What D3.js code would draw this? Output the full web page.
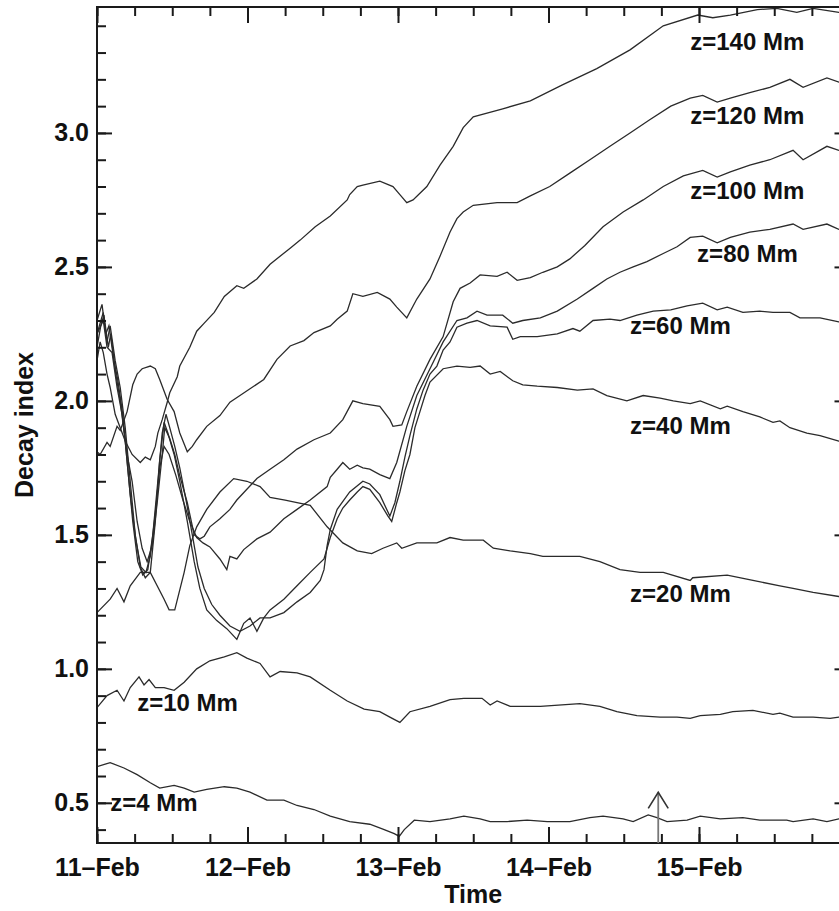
<!DOCTYPE html>
<html>
<head>
<meta charset="utf-8">
<script src="https://cdn.jsdelivr.net/npm/d3@7"></script>
<style>
body { margin: 0; background: #fff; }
text { font-family: "Liberation Sans", Arial, Helvetica, sans-serif; font-weight: bold; fill: #111; }
.tick text { font-size: 25px; }
.lbl { font-size: 24px; }
.title { font-size: 25px; }
</style>
</head>
<body>
<div id="chart"></div>
<script>
// decay index vs time, hours since 11-Feb-2011 00:00 UT
var z4 = [[0,0.635],[2.1,0.65],[4.3,0.63],[6.4,0.605],[8.5,0.575],[10.0,0.555],[12.3,0.565],[13.9,0.555],[15.5,0.54],[17.5,0.55],[20.3,0.56],[22.3,0.555],[24.4,0.54],[27.1,0.51],[29.8,0.51],[31.9,0.49],[34.6,0.475],[37.2,0.45],[40.3,0.43],[43.5,0.42],[45.8,0.40],[47.4,0.385],[48.2,0.375],[49.0,0.40],[50.6,0.435],[53.1,0.43],[56.3,0.44],[58.5,0.45],[61.1,0.44],[62.7,0.43],[65.4,0.43],[68.6,0.435],[71.8,0.43],[75.4,0.43],[78.6,0.445],[80.7,0.45],[83.9,0.44],[85.5,0.43],[87.9,0.455],[89.3,0.445],[90.9,0.43],[94.1,0.435],[96.2,0.45],[99.4,0.44],[103.0,0.445],[105.7,0.435],[110.0,0.435],[111.0,0.43],[114.2,0.44],[116.4,0.43],[118.3,0.44],[120,0.44]];

var z10 = [[0,0.855],[1.6,0.90],[3.2,0.92],[4.3,0.88],[5.3,0.93],[6.7,0.97],[7.5,0.94],[8.3,0.96],[9.3,0.93],[10.7,0.93],[12.3,0.92],[13.9,0.95],[15.9,1.00],[18.0,1.03],[20.3,1.045],[22.3,1.06],[23.9,1.04],[26.0,1.02],[27.6,0.97],[29.2,0.99],[31.9,0.985],[34.0,0.97],[37.2,0.92],[39.9,0.88],[42.6,0.85],[45.1,0.84],[46.7,0.82],[48.3,0.80],[49.9,0.84],[53.1,0.86],[56.3,0.885],[58.5,0.89],[61.4,0.89],[62.7,0.865],[63.8,0.88],[65.9,0.86],[70.7,0.86],[77.0,0.87],[80.2,0.86],[82.9,0.84],[86.1,0.825],[89.8,0.82],[92.5,0.82],[94.6,0.815],[96.2,0.825],[99.4,0.83],[101.4,0.84],[104.6,0.845],[107.8,0.83],[108.9,0.835],[111.0,0.82],[114.2,0.82],[116.9,0.815],[118.3,0.82],[120,0.82]];

var z20 = [[0,1.21],[2.1,1.26],[3.2,1.30],[4.3,1.25],[5.3,1.31],[6.9,1.36],[8.5,1.36],[10.7,1.26],[11.5,1.22],[12.4,1.22],[13.9,1.36],[14.8,1.46],[15.9,1.53],[17.5,1.595],[19.6,1.66],[21.8,1.71],[23.9,1.70],[26.0,1.68],[27.6,1.64],[30.0,1.63],[31.9,1.62],[34.0,1.61],[36.7,1.53],[39.2,1.47],[41.5,1.44],[43.8,1.43],[45.6,1.45],[47.8,1.47],[48.6,1.45],[51.0,1.47],[54.2,1.47],[56.3,1.49],[58.4,1.48],[61.6,1.48],[63.2,1.45],[65.9,1.44],[69.1,1.43],[71.1,1.42],[77.0,1.42],[80.2,1.40],[83.4,1.37],[86.6,1.36],[90.3,1.36],[94.6,1.33],[95.0,1.34],[100.5,1.35],[104.6,1.33],[108.9,1.31],[111.0,1.30],[114.2,1.285],[118.3,1.27],[120,1.265]];

var z40 = [[0,2.25],[1.0,2.33],[1.6,2.22],[2.1,2.28],[2.9,2.15],[3.7,2.05],[4.5,1.90],[5.3,1.70],[6.1,1.50],[6.9,1.38],[7.7,1.34],[8.5,1.36],[9.3,1.55],[10.0,1.78],[10.7,1.92],[11.3,1.88],[12.3,1.80],[13.2,1.70],[14.4,1.55],[15.5,1.40],[16.4,1.30],[17.5,1.22],[19.1,1.18],[20.7,1.15],[22.3,1.11],[23.4,1.17],[24.4,1.19],[25.5,1.14],[26.6,1.19],[27.6,1.22],[29.8,1.26],[31.9,1.31],[34.0,1.36],[36.2,1.41],[37.2,1.49],[38.3,1.56],[39.2,1.60],[40.3,1.63],[41.5,1.66],[42.4,1.68],[43.5,1.67],[45.1,1.62],[46.4,1.57],[47.0,1.55],[47.8,1.62],[48.3,1.66],[49.1,1.74],[49.9,1.80],[50.7,1.90],[51.5,1.96],[52.3,2.02],[53.1,2.07],[55.2,2.12],[57.4,2.13],[59.5,2.125],[61.1,2.13],[62.7,2.10],[64.3,2.11],[66.3,2.075],[67.9,2.06],[70.2,2.055],[73.4,2.05],[76.6,2.04],[79.1,2.045],[81.3,2.02],[84.5,2.00],[87.1,2.02],[89.8,2.01],[91.9,2.00],[94.6,1.99],[96.2,2.00],[99.4,1.97],[100.5,1.98],[103.0,1.96],[105.7,1.94],[107.8,1.92],[108.9,1.925],[110.5,1.90],[113.2,1.88],[115.3,1.87],[118.3,1.85],[120,1.845]];

var z60 = [[0,2.30],[0.8,2.36],[1.4,2.25],[1.9,2.28],[2.7,2.15],[3.3,2.08],[4.1,1.95],[4.9,1.75],[5.7,1.55],[6.5,1.40],[7.3,1.35],[8.1,1.37],[8.9,1.50],[9.7,1.70],[10.4,1.88],[11.0,1.95],[11.6,1.90],[12.4,1.83],[13.2,1.75],[14.2,1.63],[15.2,1.50],[16.1,1.38],[17.1,1.30],[18.3,1.24],[19.6,1.20],[21.2,1.16],[22.8,1.14],[24.4,1.16],[26.0,1.19],[27.6,1.19],[29.8,1.21],[31.9,1.25],[34.0,1.285],[35.6,1.33],[36.2,1.37],[36.7,1.46],[37.2,1.52],[38.3,1.595],[40.3,1.66],[42.4,1.70],[43.5,1.69],[45.1,1.65],[46.7,1.57],[47.5,1.62],[48.3,1.70],[49.1,1.79],[49.9,1.87],[51.0,1.97],[52.0,2.04],[53.1,2.10],[54.2,2.13],[55.2,2.19],[56.3,2.22],[57.4,2.275],[59.0,2.29],[60.6,2.30],[62.7,2.28],[65.4,2.275],[66.3,2.23],[67.5,2.24],[70.2,2.24],[73.4,2.25],[75.9,2.27],[77.0,2.26],[79.1,2.30],[81.8,2.305],[83.4,2.30],[86.1,2.32],[88.7,2.335],[91.5,2.34],[94.1,2.355],[96.6,2.365],[98.9,2.34],[100.5,2.35],[103.0,2.33],[105.7,2.335],[107.8,2.33],[110.5,2.33],[112.1,2.31],[115.3,2.31],[118.3,2.295],[120,2.29]];

var z80 = [[0,2.20],[0.6,2.28],[1.1,2.32],[1.8,2.20],[2.2,2.25],[3.0,2.10],[3.7,2.00],[4.5,1.85],[5.3,1.65],[6.2,1.48],[7.0,1.38],[7.8,1.36],[8.5,1.42],[9.3,1.58],[10.0,1.75],[10.7,1.83],[11.5,1.80],[12.6,1.72],[13.7,1.63],[14.8,1.55],[15.9,1.49],[16.9,1.47],[18.0,1.455],[19.6,1.41],[20.7,1.37],[21.2,1.42],[22.3,1.41],[23.4,1.445],[25.5,1.485],[27.6,1.51],[29.8,1.56],[31.9,1.595],[34.0,1.63],[36.7,1.68],[37.2,1.715],[38.3,1.745],[39.2,1.77],[40.3,1.745],[41.5,1.76],[42.4,1.75],[43.5,1.745],[45.1,1.725],[46.7,1.71],[47.8,1.77],[49.4,1.905],[51.0,2.02],[53.1,2.12],[55.2,2.22],[57.4,2.30],[59.0,2.31],[60.6,2.335],[62.2,2.32],[64.7,2.32],[66.3,2.29],[67.9,2.30],[70.7,2.31],[73.4,2.335],[76.6,2.38],[79.1,2.42],[81.3,2.455],[83.4,2.48],[85.5,2.50],[87.7,2.52],[90.3,2.55],[92.5,2.575],[94.6,2.61],[96.6,2.615],[98.9,2.59],[101.0,2.61],[104.1,2.63],[107.3,2.64],[111.0,2.66],[112.6,2.64],[116.4,2.66],[118.3,2.64],[120,2.65]];

var z100 = [[0,2.25],[1.0,2.30],[1.6,2.20],[2.4,2.18],[3.2,2.05],[4.0,1.95],[4.8,1.80],[5.6,1.70],[6.4,1.55],[7.2,1.45],[8.0,1.40],[8.8,1.46],[9.6,1.62],[10.4,1.80],[10.8,1.90],[11.6,1.86],[12.4,1.80],[13.2,1.72],[14.4,1.62],[15.5,1.50],[16.4,1.485],[17.1,1.495],[18.0,1.53],[19.6,1.56],[21.2,1.595],[22.3,1.63],[23.9,1.67],[25.5,1.71],[27.6,1.745],[29.8,1.78],[31.9,1.82],[34.6,1.855],[37.2,1.88],[39.2,1.93],[40.8,2.00],[42.4,1.99],[45.1,1.98],[46.7,1.93],[47.2,1.905],[48.6,1.91],[49.4,1.96],[51.0,2.055],[53.1,2.155],[55.2,2.24],[56.8,2.37],[57.9,2.42],[59.5,2.44],[61.1,2.47],[63.8,2.465],[65.4,2.48],[67.0,2.45],[69.1,2.46],[71.1,2.48],[73.4,2.50],[75.4,2.53],[77.8,2.58],[80.7,2.65],[83.9,2.705],[87.1,2.75],[90.3,2.80],[93.5,2.84],[96.6,2.86],[98.9,2.835],[101.0,2.855],[104.1,2.88],[107.3,2.90],[111.0,2.935],[112.6,2.90],[116.4,2.95],[118.3,2.935],[120,2.945]];

var z120 = [[0,1.81],[0.5,1.80],[1.6,1.845],[2.1,1.83],[3.2,1.905],[3.7,1.89],[4.8,1.96],[5.7,2.06],[6.4,2.10],[7.2,2.12],[8.5,2.13],[9.3,2.12],[10.0,2.08],[11.2,2.005],[12.3,1.96],[13.2,1.88],[14.4,1.81],[15.2,1.83],[15.9,1.855],[17.5,1.905],[19.6,1.945],[21.2,1.995],[22.8,2.02],[24.4,2.045],[26.6,2.08],[28.7,2.155],[30.8,2.205],[33.0,2.225],[34.6,2.255],[37.2,2.28],[38.3,2.305],[39.9,2.335],[40.8,2.40],[42.4,2.39],[44.7,2.405],[46.7,2.38],[47.8,2.35],[49.4,2.31],[51.0,2.38],[53.1,2.455],[54.7,2.54],[56.3,2.63],[57.4,2.68],[58.4,2.705],[60.0,2.73],[63.8,2.74],[67.0,2.74],[69.1,2.765],[72.2,2.80],[75.4,2.85],[78.6,2.90],[81.8,2.95],[85.0,3.00],[88.2,3.05],[91.5,3.10],[94.6,3.13],[96.6,3.14],[98.9,3.115],[101.0,3.13],[104.1,3.15],[107.3,3.17],[110.5,3.20],[112.6,3.17],[116.4,3.205],[118.3,3.19],[120,3.20]];

var z140 = [[0,2.15],[0.5,2.22],[1.0,2.18],[1.6,2.10],[2.1,2.05],[2.9,1.95],[3.7,1.90],[4.5,1.85],[5.6,1.80],[6.9,1.77],[7.7,1.79],[8.5,1.78],[9.3,1.83],[9.7,1.88],[10.4,1.93],[11.2,1.995],[11.6,2.03],[12.8,2.09],[13.2,2.13],[14.8,2.20],[15.9,2.26],[17.1,2.29],[18.7,2.33],[20.3,2.39],[22.3,2.43],[23.4,2.42],[25.5,2.455],[27.6,2.51],[30.8,2.57],[32.4,2.60],[34.8,2.65],[37.2,2.69],[39.9,2.75],[40.3,2.77],[41.5,2.80],[42.4,2.805],[45.1,2.82],[47.2,2.80],[48.3,2.77],[49.4,2.74],[50.4,2.75],[52.6,2.80],[54.7,2.88],[56.8,2.95],[58.4,3.02],[60.0,3.06],[64.7,3.09],[69.1,3.12],[74.3,3.18],[79.7,3.24],[85.0,3.31],[90.3,3.40],[95.8,3.44],[98.2,3.43],[101.0,3.44],[105.3,3.46],[108.4,3.465],[111.6,3.45],[114.2,3.465],[118.3,3.45],[120,3.455]];

var series = [z4, z10, z20, z40, z60, z80, z100, z120, z140];
var labelText = ["z=4 Mm", "z=10 Mm", "z=20 Mm", "z=40 Mm", "z=60 Mm", "z=80 Mm", "z=100 Mm", "z=120 Mm", "z=140 Mm"];
var dayTicks = [11, 12, 13, 14, 15];
var yTicks = [0.5, 1.0, 1.5, 2.0, 2.5, 3.0];
var flareHour = 89.5;   // arrow, 14-Feb ~17:30 UT

var margin = {top: 7, left: 97},
    width = 752.5,
    height = 836;

var svg = d3.select("#chart").append("svg")
    .attr("width", 839)
    .attr("height", 911)
    .append("g")
    .attr("transform", "translate(" + margin.left + "," + margin.top + ")");

var t0 = Date.UTC(2011, 1, 11);
function toDate(h) { return new Date(t0 + h * 3600e3); }

var x = d3.scaleUtc().domain([toDate(0), toDate(120)]).range([0, width]);
var y = d3.scaleLinear().domain([0.35, 3.47]).range([height, 0]);

svg.append("clipPath").attr("id", "clip")
    .append("rect").attr("width", width).attr("height", height);

var line = d3.line()
    .x(function(d) { return x(toDate(d[0])); })
    .y(function(d) { return y(d[1]); });

svg.append("g").attr("clip-path", "url(#clip)")
    .selectAll("path")
    .data(series)
    .enter().append("path")
    .attr("d", line)
    .attr("fill", "none")
    .attr("stroke", "#2b2b2b")
    .attr("stroke-width", 1.3);

// axes
var days = dayTicks.map(function(d) { return new Date(Date.UTC(2011, 1, d)); });
var sixHours = d3.utcHour.every(6).range(toDate(0), toDate(120.1));
var minorY = d3.range(4, 35).map(function(i) { return i / 10; });

function clean(g) {
    g.select(".domain").remove();
    g.attr("font-size", null).attr("font-family", null).attr("color", "#1a1a1a");
    g.selectAll("line").attr("stroke-width", 2);
}

svg.append("g").attr("transform", "translate(0," + height + ")")
    .call(d3.axisBottom(x).tickValues(sixHours).tickSize(-9).tickFormat("")).call(clean);
svg.append("g").attr("transform", "translate(0," + height + ")")
    .call(d3.axisBottom(x).tickValues(days).tickSize(-16).tickPadding(15)
        .tickFormat(d3.utcFormat("%d\u2013%b"))).call(clean);
svg.append("g")
    .call(d3.axisTop(x).tickValues(sixHours).tickSize(-9).tickFormat("")).call(clean);
svg.append("g")
    .call(d3.axisTop(x).tickValues(days).tickSize(-16).tickFormat("")).call(clean);

svg.append("g")
    .call(d3.axisLeft(y).tickValues(minorY).tickSize(-9).tickFormat("")).call(clean);
svg.append("g")
    .call(d3.axisLeft(y).tickValues(yTicks).tickSize(-15).tickPadding(8)
        .tickFormat(d3.format(".1f"))).call(clean);
svg.append("g").attr("transform", "translate(" + width + ",0)")
    .call(d3.axisRight(y).tickValues(minorY).tickSize(-9).tickFormat("")).call(clean);
svg.append("g").attr("transform", "translate(" + width + ",0)")
    .call(d3.axisRight(y).tickValues(yTicks).tickSize(-15).tickFormat("")).call(clean);

svg.append("rect")
    .attr("width", width).attr("height", height)
    .attr("fill", "none").attr("stroke", "#1a1a1a").attr("stroke-width", 2);

// curve labels
var labelPos = [[2.1, 0.47], [6.4, 0.844], [85.0, 1.248], [85.0, 1.876], [85.0, 2.25],
                [95.7, 2.519], [94.6, 2.754], [94.6, 3.035], [94.6, 3.311]];
svg.selectAll(".lbl")
    .data(labelText)
    .enter().append("text")
    .attr("class", "lbl")
    .attr("x", function(d, i) { return x(toDate(labelPos[i][0])); })
    .attr("y", function(d, i) { return y(labelPos[i][1]); })
    .text(function(d) { return d; });

// flare arrow
var ax = x(toDate(flareHour)), ay = y(0.539);
svg.append("line")
    .attr("x1", ax).attr("x2", ax).attr("y1", height).attr("y2", ay)
    .attr("stroke", "#777").attr("stroke-width", 1.8);
svg.append("path")
    .attr("d", "M" + (ax - 10) + "," + (ay + 16) + "L" + ax + "," + ay + "L" + (ax + 10) + "," + (ay + 16))
    .attr("fill", "none").attr("stroke", "#333").attr("stroke-width", 1.6);

// titles
svg.append("text").attr("class", "title")
    .attr("x", width / 2).attr("y", 896)
    .attr("text-anchor", "middle")
    .text("Time");
svg.append("text").attr("class", "title")
    .attr("transform", "translate(-64," + (height / 2) + ") rotate(-90)")
    .attr("text-anchor", "middle")
    .text("Decay index");
</script>
</body>
</html>
